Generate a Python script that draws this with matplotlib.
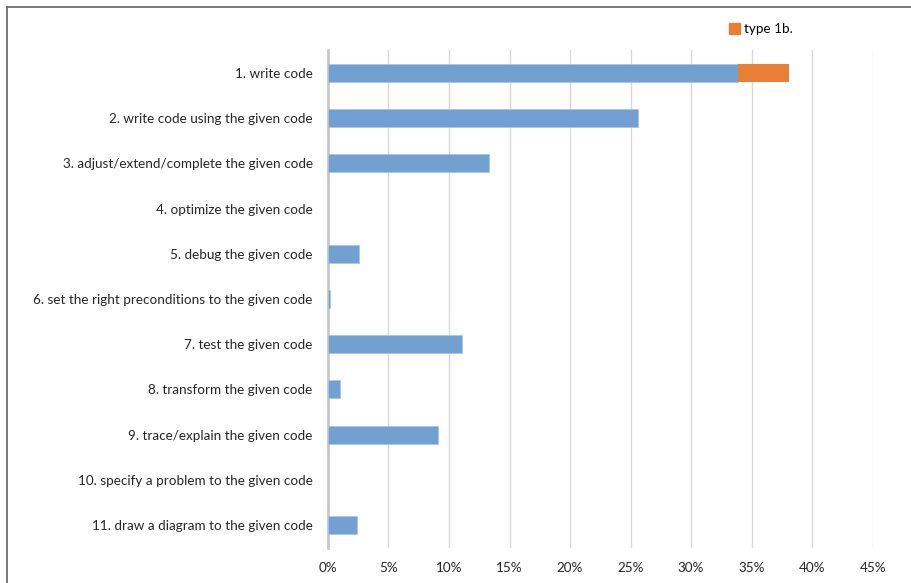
import matplotlib.pyplot as plt
from matplotlib.lines import Line2D
from matplotlib.patches import Patch

categories = [
    "1. write code",
    "2. write code using the given code",
    "3. adjust/extend/complete the given code",
    "4. optimize the given code",
    "5. debug the given code",
    "6. set the right preconditions to the given code",
    "7. test the given code",
    "8. transform the given code",
    "9. trace/explain the given code",
    "10. specify a problem to the given code",
    "11. draw a diagram to the given code",
]
type_1a = [33.9, 25.6, 13.3, 0.0, 2.6, 0.15, 11.1, 1.0, 9.1, 0.0, 2.4]
type_1b = [4.2, 0, 0, 0, 0, 0, 0, 0, 0, 0, 0]
xticks = [0, 5, 10, 15, 20, 25, 30, 35, 40, 45]

blue = "#72A0D0"
orange = "#E97E35"

plt.rcParams["font.family"] = ["Lato", "DejaVu Sans"]

fig = plt.figure(figsize=(9.11, 5.83), dpi=100)
ax = fig.add_axes([0.360, 0.0607, 0.598, 0.8529])

y = list(range(len(categories)))
edges = ["#A9C6E5" if v > 0 else "none" for v in type_1a]
ax.barh(y, type_1a, height=0.4, color=blue, edgecolor=edges, linewidth=0.6, zorder=3)
ax.barh(y, type_1b, left=type_1a, height=0.4, color=orange, linewidth=0, zorder=3)

ax.set_xlim(0, 45)
ax.set_ylim(len(categories) - 0.5, -0.5)
ax.set_yticks(y)
ax.set_yticklabels(categories, fontsize=9.7, color="#262626")
ax.set_xticks(xticks)
ax.set_xticklabels([f"{t}%" for t in xticks], fontsize=9.7, color="#262626")
ax.tick_params(axis="both", length=0)
ax.tick_params(axis="y", pad=11)
ax.tick_params(axis="x", pad=10)

ax.grid(axis="x", color="#D9D9D9", linewidth=1, zorder=0)
ax.set_axisbelow(True)
for side in ["top", "right", "bottom"]:
    ax.spines[side].set_visible(False)
ax.spines["left"].set_color("#C8C8C8")
ax.spines["left"].set_linewidth(2)

fig.legend(handles=[Patch(color=orange, label="type 1b.")], loc="center",
           bbox_to_anchor=(0.835, 0.950), frameon=False, fontsize=9.7,
           handlelength=0.8, handleheight=0.8, handletextpad=0.3)

# outer chart frame (only top and left edges visible in the crop)
fig.add_artist(Line2D([0.0075, 1.0], [0.9872, 0.9872], color="#6E6E6E", linewidth=1.3))
fig.add_artist(Line2D([0.0075, 0.0075], [0.0, 0.9872], color="#6E6E6E", linewidth=1.3))

fig.savefig("out.png", dpi=100)
